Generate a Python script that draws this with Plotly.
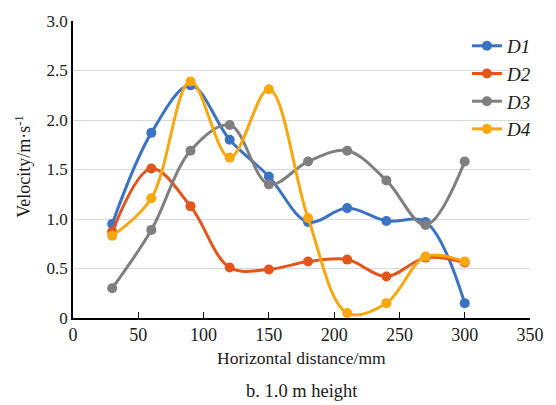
import plotly.graph_objects as go

x = [30, 60, 90, 120, 150, 180, 210, 240, 270, 300]
d1 = [0.95, 1.87, 2.35, 1.80, 1.43, 0.97, 1.11, 0.98, 0.97, 0.15]
d2 = [0.87, 1.51, 1.13, 0.51, 0.49, 0.57, 0.59, 0.42, 0.61, 0.56]
d3 = [0.30, 0.89, 1.69, 1.95, 1.35, 1.58, 1.69, 1.39, 0.94, 1.58]
d4 = [0.83, 1.21, 2.39, 1.62, 2.31, 1.01, 0.05, 0.15, 0.62, 0.57]
names = ["D1", "D2", "D3", "D4"]
colors = ["#3A73C2", "#E2561D", "#7F7F7F", "#F8A70F"]
series = [d1, d2, d3, d4]

yticks = [0, 0.5, 1.0, 1.5, 2.0, 2.5, 3.0]
ytext = ["0", "0.5", "1.0", "1.5", "2.0", "2.5", "3.0"]
xticks = [0, 50, 100, 150, 200, 250, 300, 350]

font = "Liberation Serif"
fig = go.Figure()
for n, s, c in zip(names, series, colors):
    fig.add_trace(go.Scatter(
        x=x, y=s, name="<i>%s</i>" % n, mode="lines+markers",
        line=dict(color=c, width=3, shape="spline", smoothing=1.0),
        marker=dict(color=c, size=10),
    ))

fig.update_layout(
    width=556, height=405,
    margin=dict(l=73, r=16, t=19, b=87),
    paper_bgcolor="white", plot_bgcolor="white",
    font=dict(family=font, size=17, color="#1a1a1a"),
    showlegend=True,
    legend=dict(x=0.862, y=0.98, xanchor="left", yanchor="top",
                bgcolor="rgba(0,0,0,0)", font=dict(size=19, family=font),
                tracegroupgap=0),
    xaxis=dict(range=[0, 350], tickvals=xticks, showgrid=False,
               showline=True, linecolor="black", linewidth=1.5,
               ticks="inside", ticklen=6, tickcolor="black",
               tickfont=dict(size=18), zeroline=False),
    yaxis=dict(range=[0, 3.0], tickvals=yticks, ticktext=ytext,
               showgrid=True, gridcolor="#d9d9d9", gridwidth=1,
               showline=True, linecolor="black", linewidth=1.5,
               ticks="", tickfont=dict(size=17), zeroline=False),
    shapes=[dict(type="rect", xref="paper", yref="paper",
                 x0=0.769, x1=1.0, y0=0.595, y1=0.98,
                 fillcolor="white", line=dict(width=0), layer="below")],
    annotations=[
        dict(text="Horizontal distance/mm", x=0.5, xref="paper",
             y=-0.134, yref="paper", yanchor="middle",
             showarrow=False, font=dict(size=17.5, family=font)),
        dict(text="b. 1.0 m height", x=0.5, xref="paper",
             y=-0.247, yref="paper", yanchor="middle",
             showarrow=False, font=dict(size=18.5, family=font)),
        dict(text="Velocity/m·s<sup>-1</sup>", x=-0.109, xref="paper",
             y=0.51, yref="paper", xanchor="center", yanchor="middle",
             textangle=-90, showarrow=False,
             font=dict(size=18, family=font)),
    ],
)
fig.write_html("out.html", config={"displayModeBar": False},
               post_script="document.body.style.margin='0';document.body.style.overflow='hidden';")
